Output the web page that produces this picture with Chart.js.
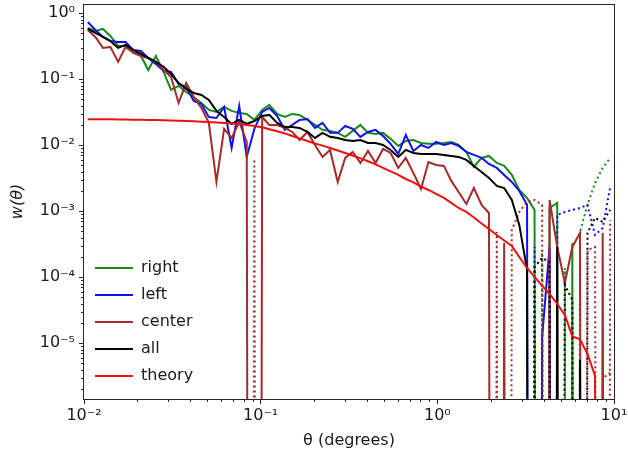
<!DOCTYPE html>
<html>
<head>
<meta charset="utf-8">
<script src="https://cdn.jsdelivr.net/npm/chart.js@4.4.1/dist/chart.umd.min.js"></script>
<style>
  html, body { margin: 0; padding: 0; background: #fff; }
  #c { display: block; }
</style>
</head>
<body>
<canvas id="c" width="628" height="460"></canvas>
<script>
"use strict";

// angular bins (degrees), log-spaced bin centres
const THETA = [
  0.0105, 0.0116, 0.0128, 0.0141, 0.0156, 0.0172, 0.0190, 0.0210, 0.0231, 0.0255,
  0.0282, 0.0311, 0.0343, 0.0379, 0.0418, 0.0462, 0.0509, 0.0562, 0.0621, 0.0685,
  0.0756, 0.0834, 0.0921, 0.102, 0.112, 0.124, 0.137, 0.151, 0.166, 0.184,
  0.203, 0.224, 0.247, 0.273, 0.301, 0.332, 0.367, 0.405, 0.447, 0.493,
  0.544, 0.601, 0.663, 0.732, 0.808, 0.891, 0.984, 1.09, 1.20, 1.32,
  1.46, 1.61, 1.78, 1.96, 2.17, 2.39, 2.64, 2.91, 3.22, 3.55,
  3.92, 4.32, 4.77, 5.27, 5.81, 6.42, 7.08, 7.81, 8.63, 9.52,
];

// w(theta) per sample; negative values are shown as dotted |w|
const W_RIGHT = [
  0.599, 0.539, 0.578, 0.453, 0.320, 0.320, 0.268, 0.225, 0.138, 0.225,
  0.129, 0.0689, 0.0792, 0.0642, 0.0539, 0.0437, 0.0343, 0.0320, 0.0380, 0.0331,
  0.0309, 0.0298, 0.0242, 0.0343, 0.0408, 0.0298, 0.0268, 0.0298, 0.0288, 0.0242,
  0.0203, 0.0171, 0.0165, 0.0154, 0.0134, 0.0165, 0.0203, 0.0154, 0.0148, 0.0154,
  0.0125, 0.00976, 0.0116, 0.0120, 0.0108, 0.0105, 0.0105, 0.0108, 0.0112, 0.0101,
  0.00792, 0.00469, 0.00642, 0.00689, 0.00539, 0.00486, 0.00355, 0.00210, 0.00159, 0.00105,
  -0.000259, 0.00112, 0.00134, -0.000138, 0.000331, -0.000486, -0.00125, -0.00268, -0.00453, -0.00642,
];
const W_LEFT = [
  0.738, 0.558, 0.437, 0.380, 0.367, 0.367, 0.278, 0.268, 0.210, 0.170,
  0.134, 0.129, 0.0849, 0.0764, 0.0469, 0.0422, 0.0268, 0.0259, 0.0380, 0.00910,
  0.0394, 0.00665, 0.0177, 0.0320, 0.0367, 0.0278, 0.0171, 0.0203, 0.0242, 0.0250,
  0.0183, 0.0218, 0.0154, 0.0154, 0.0196, 0.0177, 0.0134, 0.0159, 0.0171, 0.0138,
  0.0105, 0.00738, 0.0143, 0.00820, 0.0101, 0.00910, 0.0112, 0.0101, 0.0108, 0.00976,
  0.00792, 0.00713, 0.00642, 0.00521, 0.00453, 0.00355, 0.00278, 0.00203, 0.00125, -0.000288,
  0.0000125, 0.000288, -0.000879, -0.000976, -0.00105, -0.00112, -0.00125, -0.000437, -0.000558, -0.00233,
];
const W_CENTER = [
  0.558, 0.437, 0.298, 0.309, 0.183, 0.309, 0.250, 0.225, 0.210, 0.183,
  0.138, 0.108, 0.0437, 0.0879, 0.0539, 0.0367, 0.0218, 0.00278, 0.0177, 0.0129,
  0.0225, 0.0112, -0.00620, 0.0268, 0.0203, 0.0203, 0.0183, 0.0159, 0.0120, 0.0159,
  0.0101, 0.00665, 0.00849, 0.00278, 0.00642, 0.00792, 0.00539, 0.00820, 0.00539, 0.00879,
  0.00764, 0.00453, 0.00642, 0.00380, 0.00218, 0.00558, 0.00503, 0.00486, 0.00288, 0.00196,
  0.00129, 0.00225, 0.00125, 0.000942, -0.000486, 0.000331, -0.000521, -0.000976, -0.00138, -0.00148,
  -0.00125, 0.00148, 0.000288, 0.0000820, 0.000288, 0.000469, -0.000259, -0.000288, 0.000469, -0.000738,
];
const W_ALL = [
  0.578, 0.503, 0.437, 0.380, 0.298, 0.331, 0.278, 0.242, 0.210, 0.183,
  0.154, 0.120, 0.0879, 0.0713, 0.0620, 0.0578, 0.0486, 0.0331, 0.0268, 0.0210,
  0.0242, 0.0210, 0.0233, 0.0278, 0.0288, 0.0218, 0.0189, 0.0189, 0.0183, 0.0159,
  0.0129, 0.0154, 0.0134, 0.0129, 0.0120, 0.0116, 0.0120, 0.0108, 0.0108, 0.0101,
  0.00849, 0.00665, 0.00849, 0.00764, 0.00738, 0.00738, 0.00738, 0.00713, 0.00689, 0.00665,
  0.00599, 0.00486, 0.00394, 0.00320, 0.00242, 0.00225, 0.00148, 0.000620, 0.000129, -0.000143,
  -0.000196, -0.000171, 0.000288, -0.0000764, -0.0000453, 0.00000558, -0.000469, -0.000792, -0.000689, -0.00105,
];
const W_THEORY = [
  0.0248, 0.0248, 0.0247, 0.0247, 0.0246, 0.0245, 0.0244, 0.0243, 0.0242, 0.0241,
  0.0240, 0.0238, 0.0236, 0.0233, 0.0230, 0.0227, 0.0224, 0.0221, 0.0218, 0.0214,
  0.0209, 0.0203, 0.0196, 0.0187, 0.0175, 0.0163, 0.0151, 0.0138, 0.0127, 0.0116,
  0.0106, 0.00986, 0.00910, 0.00834, 0.00764, 0.00700, 0.00631, 0.00572, 0.00512, 0.00453,
  0.00401, 0.00355, 0.00308, 0.00273, 0.00237, 0.00210, 0.00183, 0.00159, 0.00134, 0.00112,
  0.000976, 0.000805, 0.000653, 0.000539, 0.000437, 0.000361, 0.000298, 0.000203, 0.000138, 0.000101,
  0.0000738, 0.0000558, 0.0000394, 0.0000268, 0.0000127, 0.0000115, 0.00000689, 0.00000320, -0.00000298, -0.00000355,
];

const X_TICKS = [0.01, 0.1, 1, 10];
const X_TICK_LABELS = ["10\u207b\u00b2", "10\u207b\u00b9", "10\u2070", "10\u00b9"];
const Y_TICKS = [1, 0.1, 0.01, 0.001, 0.0001, 0.00001];
const Y_TICK_LABELS = ["10\u2070", "10\u207b\u00b9", "10\u207b\u00b2", "10\u207b\u00b3", "10\u207b\u2074", "10\u207b\u2075"];

const X_MIN = 0.01, X_MAX = 10;
const Y_MIN = 1.43e-6, Y_MAX = 1.38;

// matplotlib-ish look
const FONT = '"DejaVu Sans", "Liberation Sans", sans-serif';
const C_AXIS = "#262626";
const C_TEXT = "#1a1a1a";
// non-positive samples get pushed far below the axis, like mpl's log clipping
const FLOOR = 1e-60;

const SERIES = [
  { label: "right", color: "#188a18", w: W_RIGHT, order: 5 },
  { label: "left", color: "#1010f0", w: W_LEFT, order: 4 },
  { label: "center", color: "#a52a2a", w: W_CENTER, order: 3 },
  { label: "all", color: "#000000", w: W_ALL, order: 2 },
  { label: "theory", color: "#f01010", w: W_THEORY, order: 1 },
];

function positive(w) {
  return THETA.map((t, i) => ({ x: t, y: w[i] > 0 ? w[i] : FLOOR }));
}
function negative(w) {
  return THETA.map((t, i) => ({ x: t, y: w[i] < 0 ? -w[i] : FLOOR }));
}

const datasets = [];
SERIES.forEach((s) => {
  datasets.push({
    label: s.label,
    data: positive(s.w),
    borderColor: s.color,
    backgroundColor: s.color,
    borderWidth: 2,
    pointRadius: 0,
    order: s.order,
  });
  datasets.push({
    label: s.label,
    isNeg: true,
    data: negative(s.w),
    borderColor: s.color,
    backgroundColor: s.color,
    borderWidth: 2,
    borderDash: [2, 3],
    pointRadius: 0,
    order: s.order,
  });
});

// top/right spines + minor ticks (mpl style, outward)
const framePlugin = {
  id: "frame",
  afterDraw(chart) {
    const { ctx, chartArea: a } = chart;
    const xs = chart.scales.x, ys = chart.scales.y;
    ctx.save();
    ctx.strokeStyle = C_AXIS;
    ctx.lineWidth = 1;
    ctx.strokeRect(Math.round(a.left) - 0.5, Math.round(a.top) + 0.5,
      Math.round(a.right - a.left) + 1, Math.round(a.bottom - a.top));
    ctx.beginPath();
    for (let e = -2; e < 1; e++) {
      for (let k = 2; k <= 9; k++) {
        const px = Math.round(xs.getPixelForValue(k * Math.pow(10, e))) + 0.5;
        ctx.moveTo(px, a.bottom);
        ctx.lineTo(px, a.bottom + 3);
      }
    }
    for (let e = -6; e < 0; e++) {
      for (let k = 2; k <= 9; k++) {
        const v = k * Math.pow(10, e);
        if (v < Y_MIN || v > Y_MAX) continue;
        const py = Math.round(ys.getPixelForValue(v)) + 0.5;
        ctx.moveTo(a.left, py);
        ctx.lineTo(a.left - 3, py);
      }
    }
    ctx.stroke();
    ctx.restore();
  },
};

new Chart(document.getElementById("c"), {
  type: "line",
  data: { datasets },
  plugins: [framePlugin],
  options: {
    responsive: false,
    animation: false,
    events: [],
    layout: { padding: { top: 4, right: 14, left: 0, bottom: 0 } },
    plugins: {
      legend: {
        position: "chartArea",
        align: "end",
        labels: {
          usePointStyle: true,
          pointStyle: "line",
          pointStyleWidth: 38,
          boxHeight: 16,
          padding: 11,
          color: C_TEXT,
          font: { family: FONT, size: 16 },
          filter: (item, data) => !data.datasets[item.datasetIndex].isNeg,
          sort: (a, b) => a.datasetIndex - b.datasetIndex,
        },
      },
      tooltip: { enabled: false },
    },
    scales: {
      x: {
        type: "logarithmic",
        min: X_MIN,
        max: X_MAX,
        afterBuildTicks: (s) => { s.ticks = X_TICKS.map((v) => ({ value: v })); },
        afterFit: (s) => { s.height = 61; s.paddingLeft = 0; s.paddingRight = 0; },
        border: { display: false },
        grid: { drawOnChartArea: false, drawTicks: true, tickLength: 5, color: C_AXIS },
        ticks: {
          autoSkip: false,
          maxRotation: 0,
          padding: 2,
          color: C_TEXT,
          font: { family: FONT, size: 16 },
          callback: (v) => X_TICK_LABELS[X_TICKS.indexOf(v)],
        },
        title: {
          display: true,
          text: "\u03b8 (degrees)",
          color: C_TEXT,
          font: { family: FONT, size: 16 },
          padding: { top: 0, bottom: 10 },
        },
      },
      y: {
        type: "logarithmic",
        min: Y_MIN,
        max: Y_MAX,
        afterBuildTicks: (s) => { s.ticks = Y_TICKS.map((v) => ({ value: v })); },
        afterFit: (s) => { s.width = 84; s.paddingTop = 0; s.paddingBottom = 0; },
        border: { display: false },
        grid: { drawOnChartArea: false, drawTicks: true, tickLength: 5, color: C_AXIS },
        ticks: {
          autoSkip: false,
          padding: 4,
          color: C_TEXT,
          font: { family: FONT, size: 16 },
          callback: (v) => Y_TICK_LABELS[Y_TICKS.indexOf(v)],
        },
        title: {
          display: true,
          text: "w(\u03b8)",
          color: C_TEXT,
          font: { family: FONT, size: 16, style: "italic" },
          padding: 8,
        },
      },
    },
  },
});
</script>
</body>
</html>
